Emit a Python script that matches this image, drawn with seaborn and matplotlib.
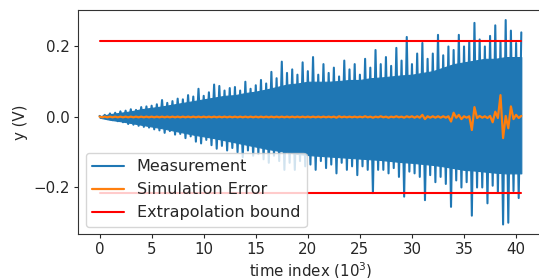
import numpy as np
import pandas as pd
import matplotlib
matplotlib.use("Agg")
import matplotlib.pyplot as plt
import seaborn as sns

# time step (in 10^3 samples) between successive positive peaks
STEP = 0.5
CORE_T = [float(k) for k in range(41)] + [40.5]

# Measurement: dense core of the oscillation (upper / lower edge, every 10^3 samples)
meas_core_upper = [
    0.002, 0.008, 0.012, 0.016, 0.022, 0.026, 0.030, 0.035, 0.040, 0.045,
    0.050, 0.055, 0.060, 0.062, 0.068, 0.072, 0.078, 0.085, 0.092, 0.095,
    0.100, 0.100, 0.100, 0.102, 0.105, 0.105, 0.110, 0.112, 0.115, 0.118,
    0.120, 0.125, 0.130, 0.140, 0.150, 0.155, 0.160, 0.165, 0.165, 0.170,
    0.170, 0.170,
]
meas_core_lower = [
    -0.002, -0.008, -0.012, -0.017, -0.022, -0.027, -0.032, -0.038, -0.044, -0.050,
    -0.055, -0.060, -0.066, -0.072, -0.078, -0.084, -0.090, -0.095, -0.100, -0.105,
    -0.108, -0.110, -0.112, -0.114, -0.116, -0.118, -0.120, -0.122, -0.125, -0.128,
    -0.130, -0.133, -0.136, -0.140, -0.145, -0.150, -0.152, -0.155, -0.158, -0.160,
    -0.160, -0.160,
]

# Measurement: positive peaks (at t = k*STEP) and negative peaks (at t = k*STEP + STEP/2)
meas_pos_peaks = [
    0.003, 0.006, 0.010, 0.012, 0.016, 0.018, 0.022, 0.020, 0.028, 0.030,
    0.032, 0.036, 0.048, 0.040, 0.045, 0.052, 0.050, 0.062, 0.058, 0.080,
    0.060, 0.070, 0.092, 0.088, 0.075, 0.082, 0.085, 0.075, 0.100, 0.080,
    0.090, 0.105, 0.095, 0.128, 0.110, 0.157, 0.125, 0.135, 0.120, 0.155,
    0.130, 0.170, 0.120, 0.150, 0.125, 0.140, 0.115, 0.160, 0.135, 0.150,
    0.120, 0.165, 0.140, 0.190, 0.150, 0.170, 0.145, 0.196, 0.160, 0.227,
    0.150, 0.180, 0.210, 0.165, 0.180, 0.233, 0.175, 0.200, 0.190, 0.233,
    0.200, 0.215, 0.267, 0.220, 0.200, 0.230, 0.260, 0.215, 0.275, 0.245,
    0.210, 0.240,
]
meas_neg_peaks = [
    -0.003, -0.006, -0.009, -0.012, -0.015, -0.020, -0.022, -0.025, -0.028, -0.030,
    -0.035, -0.038, -0.045, -0.040, -0.050, -0.048, -0.060, -0.055, -0.070, -0.075,
    -0.065, -0.080, -0.090, -0.082, -0.095, -0.088, -0.100, -0.114, -0.095, -0.110,
    -0.105, -0.120, -0.130, -0.110, -0.125, -0.150, -0.130, -0.150, -0.125, -0.140,
    -0.135, -0.150, -0.125, -0.145, -0.135, -0.160, -0.130, -0.150, -0.140, -0.165,
    -0.140, -0.150, -0.216, -0.150, -0.150, -0.160, -0.145, -0.170, -0.226, -0.155,
    -0.160, -0.170, -0.236, -0.165, -0.185, -0.170, -0.190, -0.255, -0.180, -0.200,
    -0.185, -0.280, -0.200, -0.200, -0.245, -0.195, -0.215, -0.305, -0.300, -0.210,
    -0.230,
]

# Simulation error: positive / negative peaks on the same time grid
err_pos_peaks = [
    0.001, 0.001, 0.001, 0.001, 0.001, 0.001, 0.001, 0.001, 0.001, 0.001,
    0.001, 0.001, 0.001, 0.001, 0.001, 0.001, 0.001, 0.001, 0.001, 0.001,
    0.001, 0.001, 0.001, 0.001, 0.001, 0.001, 0.001, 0.001, 0.001, 0.001,
    0.001, 0.001, 0.001, 0.001, 0.001, 0.001, 0.001, 0.001, 0.001, 0.001,
    0.001, 0.001, 0.001, 0.001, 0.001, 0.001, 0.002, 0.001, 0.001, 0.001,
    0.001, 0.002, 0.001, 0.001, 0.002, 0.001, 0.001, 0.002, 0.001, 0.002,
    0.002, 0.002, 0.006, 0.002, 0.002, 0.002, 0.002, 0.002, 0.012, 0.006,
    0.002, 0.002, 0.028, 0.003, 0.002, 0.003, 0.015, 0.062, 0.003, 0.030,
    0.006, 0.003,
]
err_neg_peaks = [
    -0.001, -0.001, -0.001, -0.001, -0.001, -0.001, -0.001, -0.001, -0.001, -0.001,
    -0.001, -0.001, -0.001, -0.001, -0.001, -0.001, -0.001, -0.001, -0.001, -0.001,
    -0.001, -0.001, -0.001, -0.001, -0.001, -0.001, -0.001, -0.001, -0.001, -0.001,
    -0.001, -0.001, -0.001, -0.001, -0.001, -0.001, -0.001, -0.001, -0.001, -0.001,
    -0.001, -0.001, -0.001, -0.001, -0.001, -0.002, -0.001, -0.001, -0.001, -0.001,
    -0.001, -0.001, -0.002, -0.001, -0.001, -0.002, -0.001, -0.001, -0.002, -0.001,
    -0.002, -0.002, -0.006, -0.002, -0.002, -0.002, -0.002, -0.013, -0.002, -0.006,
    -0.002, -0.037, -0.003, -0.002, -0.003, -0.015, -0.003, -0.060, -0.032, -0.006,
    -0.003,
]

bound_level = 0.215
bound_t = [0.0, 40.5]

legend_labels = ["Measurement", "Simulation Error", "Extrapolation bound"]
x_label = "time index ($10^3$)"
y_label = "y (V)"
x_ticks = [0, 5, 10, 15, 20, 25, 30, 35, 40]
y_ticks = [-0.2, 0.0, 0.2]
y_tick_labels = ["\u22120.2", "0.0", "0.2"]

BLUE = "#1f77b4"
ORANGE = "#ff7f0e"


def interleave(pos, neg):
    t, v = [], []
    for i, p in enumerate(pos):
        t.append(i * STEP)
        v.append(p)
        if i < len(neg):
            t.append(i * STEP + STEP / 2)
            v.append(neg[i])
    return pd.DataFrame({"t": t, "v": v})


meas_df = interleave(meas_pos_peaks, meas_neg_peaks)
err_df = interleave(err_pos_peaks, err_neg_peaks)
up_df = pd.DataFrame({"t": bound_t, "v": [bound_level] * 2})
lo_df = pd.DataFrame({"t": bound_t, "v": [-bound_level] * 2})

sns.set_style("ticks")
plt.rcParams["font.family"] = ["DejaVu Sans"]
FS = 10.8
LEG_FS = 11.5

fig = plt.figure(figsize=(5.39, 2.78), dpi=100)
ax = fig.add_axes([0.1456, 0.1583, 0.8607, 0.8057])

# dense body of the measurement
ax.fill_between(CORE_T, meas_core_lower, meas_core_upper, color=BLUE, lw=0.8,
                edgecolor=BLUE)
sns.lineplot(data=meas_df, x="t", y="v", estimator=None, sort=False, ax=ax,
             color=BLUE, lw=1.5, label=legend_labels[0])
sns.lineplot(data=err_df, x="t", y="v", estimator=None, sort=False, ax=ax,
             color=ORANGE, lw=1.6, label=legend_labels[1])
sns.lineplot(data=up_df, x="t", y="v", estimator=None, sort=False, ax=ax,
             color="red", lw=1.5, label=legend_labels[2])
sns.lineplot(data=lo_df, x="t", y="v", estimator=None, sort=False, ax=ax,
             color="red", lw=1.5)

ax.set_xlim(-2.025, 42.525)
ax.set_ylim(-0.332, 0.3035)
ax.set_xticks(x_ticks)
ax.set_yticks(y_ticks)
ax.set_yticklabels(y_tick_labels)
ax.tick_params(labelsize=FS, colors="0.15", length=3.0, pad=3.0)
ax.set_xlabel(x_label, fontsize=FS, labelpad=2.0)
ax.set_ylabel(y_label, fontsize=FS)
for s in ax.spines.values():
    s.set_color("0.2")

ax.legend(loc="lower left", fontsize=LEG_FS, framealpha=0.8, edgecolor="0.8",
          borderaxespad=0.45)

fig.savefig("out.png", dpi=100)
